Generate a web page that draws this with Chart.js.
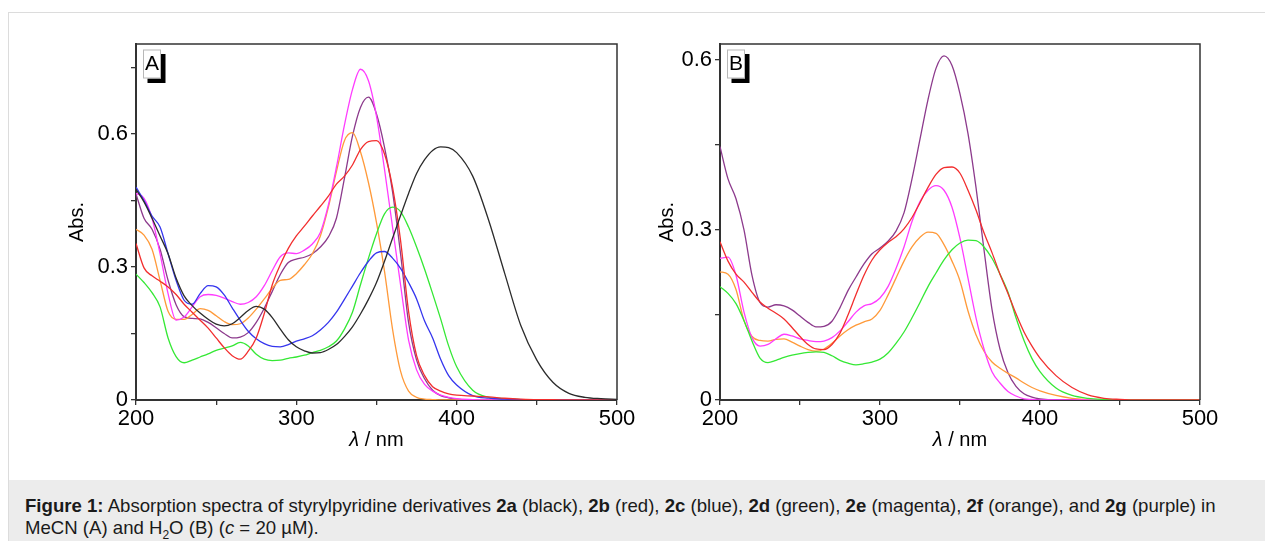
<!DOCTYPE html>
<html lang="en">
<head>
<meta charset="UTF-8">
<title>Figure 1 - Absorption spectra of styrylpyridine derivatives</title>
<script src="https://cdn.jsdelivr.net/npm/chart.js"></script>
<style>
  body {
    margin: 0;
    width: 1265px;
    height: 541px;
    overflow: hidden;
    position: relative;
    background: #fff;
    font-family: "Liberation Sans", Arial, sans-serif;
  }
  .frame {
    position: absolute;
    left: 8px; top: 12px; right: 0; bottom: 0;
    border-top: 1px solid #dcdcdc;
    border-left: 1px solid #dcdcdc;
  }
  .panel { position: absolute; top: 0; }
  #panelA { left: 0; }
  #panelB { left: 640px; }
  .caption {
    position: absolute;
    left: 9px; top: 480px; right: 0; bottom: 0;
    background: #ececec;
    padding: 15px 0 0 16px;
    font-size: 18.6px;
    line-height: 22px;
    color: #1a1a1a;
    white-space: nowrap;
  }
  .caption sub { font-size: 12px; line-height: 0; }
</style>
</head>
<body>
  <div class="frame"></div>
  <canvas id="panelA" class="panel" width="640" height="480"></canvas>
  <canvas id="panelB" class="panel" width="625" height="480"></canvas>
  <div class="caption"><b>Figure 1:</b> Absorption spectra of styrylpyridine derivatives <b>2a</b> (black), <b>2b</b> (red), <b>2c</b> (blue), <b>2d</b> (green), <b>2e</b> (magenta), <b>2f</b> (orange), and <b>2g</b> (purple) in<br>MeCN (A) and H<sub>2</sub>O (B) (<i>c</i> = 20 µM).</div>

<script>
  // wavelength grid (nm), shared by both panels
  const wavelengths = [200, 205, 210, 215, 220, 225, 230, 235, 240, 245, 250, 255, 260, 265, 270, 275, 280, 285, 290, 295,
    300, 305, 310, 315, 320, 325, 330, 335, 340, 345, 350, 355, 360, 365, 370, 375, 380, 385, 390, 395,
    400, 410, 420, 430, 440, 450, 460, 470, 480, 490, 500];

  // panel A: MeCN
  const a2a = [0.475, 0.447, 0.41, 0.37, 0.33, 0.275, 0.235, 0.213, 0.196, 0.182, 0.171, 0.167, 0.172, 0.186, 0.202, 0.211, 0.205, 0.186, 0.16, 0.136,
    0.12, 0.111, 0.106, 0.107, 0.114, 0.125, 0.143, 0.165, 0.194, 0.227, 0.265, 0.313, 0.365, 0.416, 0.466, 0.511, 0.542, 0.563, 0.571, 0.569,
    0.558, 0.505, 0.405, 0.285, 0.168, 0.09, 0.04, 0.015, 0.006, 0.003, 0.0015];
  const a2b = [0.353, 0.298, 0.28, 0.268, 0.255, 0.238, 0.216, 0.198, 0.18, 0.162, 0.14, 0.118, 0.1, 0.092, 0.11, 0.14, 0.195, 0.26, 0.305, 0.342,
    0.37, 0.392, 0.415, 0.437, 0.46, 0.487, 0.505, 0.53, 0.565, 0.583, 0.585, 0.555, 0.48, 0.36, 0.2, 0.1, 0.055, 0.03, 0.02, 0.014,
    0.011, 0.009, 0.007, 0.004, 0.002, 0.001, 0.001, 0, 0, 0, 0];
  const a2c = [0.48, 0.45, 0.415, 0.39, 0.33, 0.27, 0.225, 0.216, 0.24, 0.258, 0.255, 0.237, 0.208, 0.18, 0.155, 0.138, 0.127, 0.121, 0.12, 0.125,
    0.133, 0.138, 0.145, 0.158, 0.175, 0.198, 0.227, 0.257, 0.287, 0.313, 0.332, 0.335, 0.32, 0.297, 0.265, 0.228, 0.178, 0.14, 0.092, 0.055,
    0.034, 0.01, 0.004, 0.002, 0.001, 0.001, 0, 0, 0, 0, 0];
  const a2d = [0.284, 0.265, 0.242, 0.21, 0.14, 0.098, 0.084, 0.09, 0.097, 0.104, 0.112, 0.117, 0.122, 0.13, 0.122, 0.103, 0.092, 0.089, 0.09, 0.094,
    0.097, 0.101, 0.107, 0.112, 0.12, 0.133, 0.16, 0.198, 0.26, 0.32, 0.375, 0.42, 0.435, 0.425, 0.39, 0.345, 0.295, 0.24, 0.183, 0.122,
    0.075, 0.022, 0.006, 0.003, 0.001, 0, 0, 0, 0, 0, 0];
  const a2e = [0.466, 0.455, 0.41, 0.33, 0.24, 0.18, 0.187, 0.21, 0.233, 0.238, 0.236, 0.23, 0.222, 0.216, 0.22, 0.233, 0.258, 0.292, 0.323, 0.332,
    0.33, 0.338, 0.352, 0.378, 0.44, 0.525, 0.62, 0.7, 0.746, 0.72, 0.64, 0.52, 0.39, 0.26, 0.135, 0.068, 0.035, 0.02, 0.011, 0.006,
    0.003, 0.001, 0, 0, 0, 0, 0, 0, 0, 0, 0];
  const a2f = [0.385, 0.372, 0.34, 0.27, 0.2, 0.182, 0.182, 0.193, 0.206, 0.202, 0.19, 0.177, 0.17, 0.172, 0.185, 0.205, 0.228, 0.252, 0.27, 0.272,
    0.285, 0.305, 0.33, 0.37, 0.435, 0.515, 0.585, 0.603, 0.56, 0.49, 0.4, 0.29, 0.16, 0.065, 0.02, 0.006, 0.002, 0.001, 0, 0,
    0, 0, 0, 0, 0, 0, 0, 0, 0, 0, 0];
  const a2g = [0.465, 0.41, 0.385, 0.34, 0.27, 0.215, 0.188, 0.184, 0.183, 0.175, 0.163, 0.15, 0.14, 0.142, 0.152, 0.175, 0.207, 0.245, 0.283, 0.31,
    0.318, 0.322, 0.33, 0.345, 0.368, 0.41, 0.5, 0.595, 0.66, 0.683, 0.645, 0.57, 0.47, 0.33, 0.175, 0.09, 0.048, 0.022, 0.01, 0.005,
    0.002, 0, 0, 0, 0, 0, 0, 0, 0, 0, 0];

  // panel B: H2O
  const b2b = [0.279, 0.245, 0.222, 0.208, 0.19, 0.173, 0.162, 0.153, 0.143, 0.128, 0.112, 0.098, 0.09, 0.089, 0.098, 0.118, 0.15, 0.186, 0.22, 0.247,
    0.265, 0.278, 0.288, 0.302, 0.322, 0.348, 0.375, 0.398, 0.41, 0.411, 0.4, 0.37, 0.335, 0.295, 0.26, 0.222, 0.188, 0.152, 0.12, 0.095,
    0.074, 0.043, 0.022, 0.009, 0.003, 0.001, 0, 0, 0, 0, 0];
  const b2d = [0.2, 0.188, 0.17, 0.14, 0.104, 0.074, 0.066, 0.07, 0.075, 0.079, 0.082, 0.084, 0.085, 0.084, 0.078, 0.07, 0.065, 0.062, 0.064, 0.067,
    0.072, 0.083, 0.1, 0.12, 0.145, 0.172, 0.2, 0.224, 0.247, 0.265, 0.277, 0.282, 0.281, 0.27, 0.25, 0.222, 0.19, 0.145, 0.105, 0.073,
    0.05, 0.021, 0.008, 0.003, 0.001, 0, 0, 0, 0, 0, 0];
  const b2e = [0.25, 0.252, 0.22, 0.155, 0.11, 0.095, 0.098, 0.108, 0.116, 0.113, 0.108, 0.105, 0.103, 0.104, 0.11, 0.122, 0.138, 0.155, 0.166, 0.17,
    0.18, 0.2, 0.232, 0.27, 0.315, 0.35, 0.37, 0.378, 0.37, 0.34, 0.285, 0.215, 0.145, 0.09, 0.05, 0.03, 0.015, 0.007, 0.002, 0.001,
    0, 0, 0, 0, 0, 0, 0, 0, 0, 0, 0];
  const b2f = [0.226, 0.222, 0.195, 0.14, 0.112, 0.105, 0.104, 0.107, 0.108, 0.102, 0.095, 0.089, 0.086, 0.09, 0.1, 0.113, 0.124, 0.132, 0.138, 0.143,
    0.158, 0.185, 0.215, 0.245, 0.27, 0.287, 0.296, 0.294, 0.274, 0.245, 0.21, 0.157, 0.115, 0.086, 0.067, 0.056, 0.047, 0.039, 0.03, 0.022,
    0.016, 0.008, 0.003, 0.001, 0, 0, 0, 0, 0, 0, 0];
  const b2g = [0.447, 0.39, 0.355, 0.3, 0.22, 0.172, 0.164, 0.168, 0.166, 0.159, 0.148, 0.137, 0.129, 0.13, 0.139, 0.163, 0.193, 0.217, 0.24, 0.258,
    0.268, 0.28, 0.298, 0.33, 0.39, 0.46, 0.53, 0.585, 0.607, 0.59, 0.54, 0.47, 0.375, 0.265, 0.16, 0.09, 0.048, 0.024, 0.011, 0.005,
    0.002, 0, 0, 0, 0, 0, 0, 0, 0, 0, 0];

  const xTickValues = [200, 250, 300, 350, 400, 450, 500];
  const yTickValuesA = [0, 0.15, 0.3, 0.45, 0.6, 0.75];
  const yTickValuesB = [0, 0.15, 0.3, 0.45, 0.6];
  const yLabelled = ['0', '0.3', '0.6'];

  const colors = {
    black: '#2b2b2b', red: '#f22e2e', blue: '#3535ee', green: '#35e835',
    magenta: '#ff3cff', orange: '#ff9a3a', purple: '#8c3a8c'
  };

  const FONT = '"Liberation Sans", Arial, sans-serif';

  function points(values) {
    return wavelengths.map((x, i) => ({ x: x, y: values[i] }));
  }

  function line(values, color) {
    return {
      data: points(values),
      borderColor: color,
      borderWidth: 1.3,
      pointRadius: 0,
      fill: false,
      cubicInterpolationMode: 'monotone'
    };
  }

  // frame, panel letter and axis titles
  const decorPlugin = {
    id: 'decor',
    afterDraw(chart, args, opts) {
      const ctx = chart.ctx;
      const a = chart.chartArea;
      ctx.save();
      ctx.strokeStyle = '#333';
      ctx.lineWidth = 1.5;
      ctx.beginPath();
      ctx.moveTo(a.left, a.top);
      ctx.lineTo(a.right, a.top);
      ctx.lineTo(a.right, a.bottom);
      ctx.stroke();

      const bx = a.left + 7, by = a.top + 5.5;
      ctx.fillStyle = '#000';
      ctx.fillRect(bx + 4.5, by + 4.5, 18, 29);
      ctx.fillStyle = '#fff';
      ctx.fillRect(bx, by, 18, 29);
      ctx.strokeStyle = '#b8b8b8';
      ctx.lineWidth = 1;
      ctx.strokeRect(bx + 0.5, by + 0.5, 17, 28);
      ctx.fillStyle = '#000';
      ctx.font = '21px ' + FONT;
      ctx.textAlign = 'center';
      ctx.textBaseline = 'middle';
      ctx.fillText(opts.letter, bx + 9, by + 15);

      ctx.font = '20px ' + FONT;
      ctx.save();
      ctx.translate(a.left - opts.yTitleGap, (a.top + a.bottom) / 2);
      ctx.rotate(-Math.PI / 2);
      ctx.fillText('Abs.', 0, 0);
      ctx.restore();

      const cx = (a.left + a.right) / 2, ty = a.bottom + 40;
      ctx.font = 'italic 20px ' + FONT;
      const w1 = ctx.measureText('\u03bb').width;
      ctx.font = '20px ' + FONT;
      const w2 = ctx.measureText(' / nm').width;
      const x0 = cx - (w1 + w2) / 2;
      ctx.textAlign = 'left';
      ctx.font = 'italic 20px ' + FONT;
      ctx.fillText('\u03bb', x0, ty);
      ctx.font = '20px ' + FONT;
      ctx.fillText(' / nm', x0 + w1, ty);
      ctx.restore();
    }
  };

  function makeChart(id, datasets, yMax, yTicks, plotLeft, padRight, letter, yTitleGap) {
    return new Chart(document.getElementById(id), {
      type: 'line',
      data: { datasets: datasets },
      plugins: [decorPlugin],
      options: {
        responsive: false,
        animation: false,
        layout: { padding: { left: 0, top: 44, right: padRight, bottom: 0 } },
        plugins: {
          legend: { display: false },
          tooltip: { enabled: false },
          decor: { letter: letter, yTitleGap: yTitleGap }
        },
        scales: {
          x: {
            type: 'linear',
            min: 200,
            max: 500,
            afterBuildTicks: s => { s.ticks = xTickValues.map(v => ({ value: v })); },
            afterFit: s => { s.height = 80; },
            ticks: {
              autoSkip: false,
              maxRotation: 0,
              padding: 1,
              color: '#000',
              font: { family: FONT, size: 22 },
              callback: v => (v % 100 === 0 ? String(v) : '')
            },
            grid: { drawOnChartArea: false, tickLength: 5, color: '#333', lineWidth: 1.3 },
            border: { color: '#333', width: 2 }
          },
          y: {
            min: 0,
            max: yMax,
            afterBuildTicks: s => { s.ticks = yTicks.map(v => ({ value: v })); },
            afterFit: s => { s.width = plotLeft; },
            ticks: {
              autoSkip: false,
              padding: 3,
              color: '#000',
              font: { family: FONT, size: 22 },
              callback: v => {
                const k = v / 0.3;
                return Math.abs(k - Math.round(k)) < 1e-6 ? yLabelled[Math.round(k)] : '';
              }
            },
            grid: { drawOnChartArea: false, tickLength: 5, color: '#333', lineWidth: 1.3 },
            border: { color: '#333', width: 2 }
          }
        }
      }
    });
  }

  makeChart('panelA', [
    line(a2a, colors.black),
    line(a2b, colors.red),
    line(a2c, colors.blue),
    line(a2d, colors.green),
    line(a2e, colors.magenta),
    line(a2f, colors.orange),
    line(a2g, colors.purple)
  ], 0.803, yTickValuesA, 136, 23, 'A', 58.5);

  makeChart('panelB', [
    line(b2b, colors.red),
    line(b2d, colors.green),
    line(b2e, colors.magenta),
    line(b2f, colors.orange),
    line(b2g, colors.purple)
  ], 0.628, yTickValuesB, 80, 65, 'B', 53);
</script>
</body>
</html>
